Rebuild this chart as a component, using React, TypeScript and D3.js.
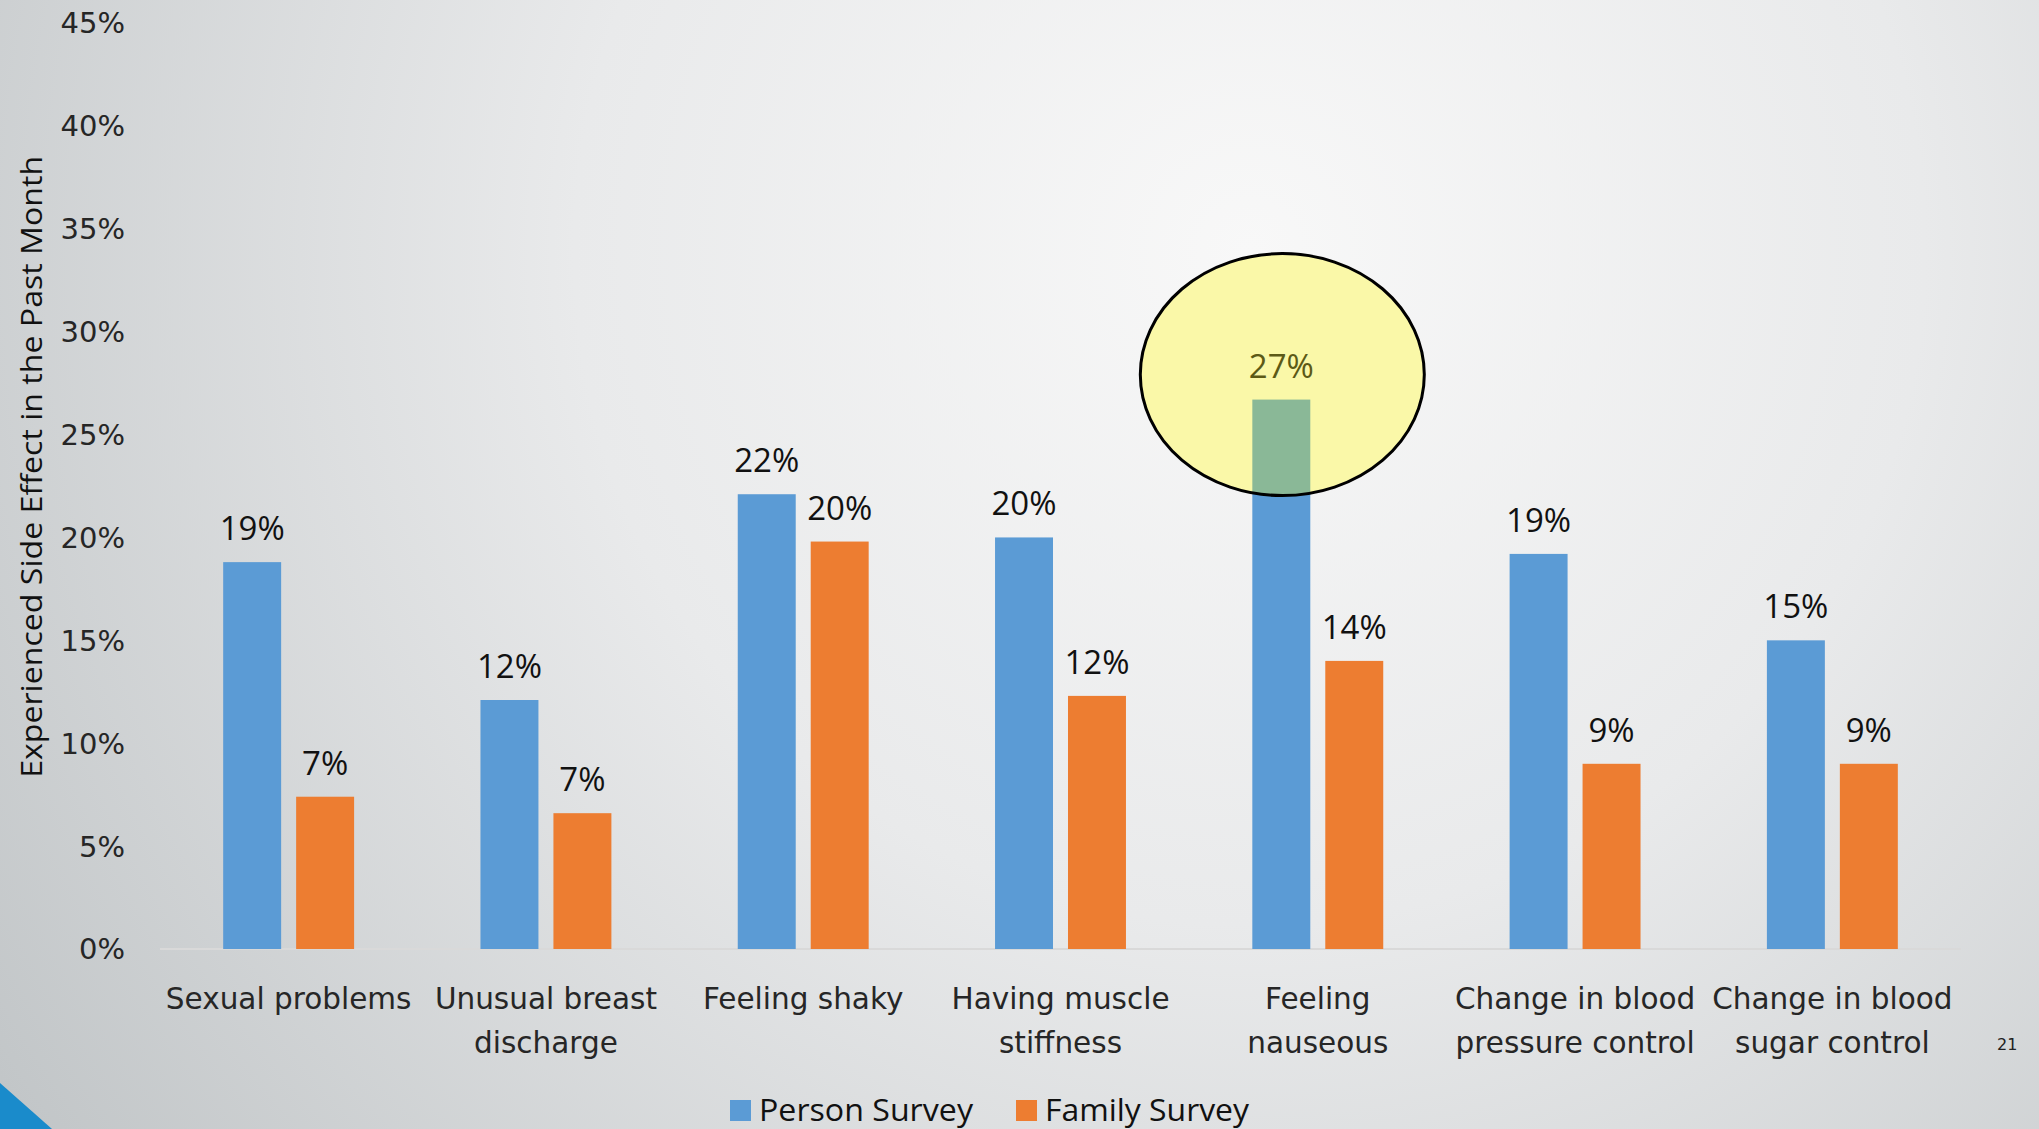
import { useEffect, useRef } from "react";
import * as d3 from "d3";

const categories = [
  ["Sexual problems"],
  ["Unusual breast", "discharge"],
  ["Feeling shaky"],
  ["Having muscle", "stiffness"],
  ["Feeling", "nauseous"],
  ["Change in blood", "pressure control"],
  ["Change in blood", "sugar control"],
];
const personSurvey = [18.8, 12.1, 22.1, 20.0, 26.7, 19.2, 15.0];
const familySurvey = [7.4, 6.6, 19.8, 12.3, 14.0, 9.0, 9.0];
const personLabels = ["19%", "12%", "22%", "20%", "27%", "19%", "15%"];
const familyLabels = ["7%", "7%", "20%", "12%", "14%", "9%", "9%"];
const seriesNames = ["Person Survey", "Family Survey"];
const yTicks = [0, 5, 10, 15, 20, 25, 30, 35, 40, 45];

const W = 2039;
const H = 1129;
const COLORS = ["#5B9BD5", "#ED7D31"];

export default function App() {
  const svgRef = useRef<SVGSVGElement>(null);

  useEffect(() => {
    document.body.style.margin = "0";
    const svg = d3.select(svgRef.current);
    svg.selectAll("*").remove();

    const defs = svg.append("defs");
    const grad = defs
      .append("radialGradient")
      .attr("id", "bg")
      .attr("gradientUnits", "userSpaceOnUse")
      .attr("cx", 1250)
      .attr("cy", 250)
      .attr("r", 1500);
    grad.append("stop").attr("offset", "0").attr("stop-color", "#f8f8f8");
    grad.append("stop").attr("offset", "0.45").attr("stop-color", "#e9eaeb");
    grad.append("stop").attr("offset", "1").attr("stop-color", "#c2c6c8");

    svg.append("rect").attr("width", W).attr("height", H).attr("fill", "url(#bg)");

    // blue corner
    svg
      .append("path")
      .attr("d", `M0,${H - 46} L52,${H} L0,${H} Z`)
      .attr("fill", "#1a8bcb");

    const margin = { left: 160, right: 78, top: 23, bottom: 180 };
    const y = d3
      .scaleLinear()
      .domain([0, 45])
      .range([H - margin.bottom, margin.top]);
    const x0 = d3
      .scaleBand()
      .domain(categories.map((_, i) => String(i)))
      .range([margin.left, W - margin.right]);
    const x1 = d3
      .scaleBand()
      .domain(seriesNames)
      .range([0, x0.bandwidth()])
      .paddingInner(0.2055)
      .paddingOuter(0.866);

    // y tick labels
    svg
      .append("g")
      .selectAll("text")
      .data(yTicks)
      .join("text")
      .attr("x", 125)
      .attr("y", (d) => y(d))
      .attr("dy", "0.36em")
      .attr("text-anchor", "end")
      .style("font-family", "DejaVu Sans")
      .style("font-size", "29px")
      .attr("fill", "#262626")
      .text((d) => `${d}%`);

    // axis line
    svg
      .append("line")
      .attr("x1", margin.left)
      .attr("x2", W - margin.right)
      .attr("y1", y(0))
      .attr("y2", y(0))
      .attr("stroke", "#d9d9d9")
      .attr("stroke-width", 2);

    const groups = categories.map((c, i) => ({
      i,
      lines: c,
      values: [personSurvey[i], familySurvey[i]],
      labels: [personLabels[i], familyLabels[i]],
    }));

    const g = svg
      .append("g")
      .selectAll("g")
      .data(groups)
      .join("g")
      .attr("transform", (d) => `translate(${x0(String(d.i))},0)`);

    g.selectAll("rect")
      .data((d) => d.values.map((v, k) => ({ v, k })))
      .join("rect")
      .attr("x", (d) => x1(seriesNames[d.k])!)
      .attr("y", (d) => y(d.v))
      .attr("width", x1.bandwidth())
      .attr("height", (d) => y(0) - y(d.v))
      .attr("fill", (d) => COLORS[d.k]);

    g.selectAll("text.lbl")
      .data((d) => d.values.map((v, k) => ({ v, k, t: d.labels[k] })))
      .join("text")
      .attr("class", "lbl")
      .attr("x", (d) => x1(seriesNames[d.k])! + x1.bandwidth() / 2)
      .attr("y", (d) => y(d.v) - 22)
      .attr("text-anchor", "middle")
      .style("font-family", "Open Sans")
      .style("font-size", "33px")
      .attr("fill", "#111")
      .text((d) => d.t);

    // category labels
    g.selectAll("text.cat")
      .data((d) => d.lines)
      .join("text")
      .attr("class", "cat")
      .attr("x", x0.bandwidth() / 2)
      .attr("y", (_, j) => 1009 + j * 44)
      .attr("text-anchor", "middle")
      .style("font-family", "DejaVu Sans")
      .style("font-size", "29.5px")
      .attr("fill", "#262626")
      .text((d) => d);

    // highlight ellipse over the 27% bar
    const hi = 4;
    const cx = x0(String(hi))! + x1(seriesNames[0])! + x1.bandwidth() / 2 + 1;
    const cy = y(personSurvey[hi]) - 25;
    defs
      .append("clipPath")
      .attr("id", "ell")
      .append("ellipse")
      .attr("cx", cx)
      .attr("cy", cy)
      .attr("rx", 142)
      .attr("ry", 121);
    svg
      .append("ellipse")
      .attr("cx", cx)
      .attr("cy", cy)
      .attr("rx", 142)
      .attr("ry", 121)
      .attr("fill", "#faf8a8");
    svg
      .append("rect")
      .attr("clip-path", "url(#ell)")
      .attr("x", x0(String(hi))! + x1(seriesNames[0])!)
      .attr("y", y(personSurvey[hi]))
      .attr("width", x1.bandwidth())
      .attr("height", y(0) - y(personSurvey[hi]))
      .attr("fill", "#8ab897");
    svg
      .append("text")
      .attr("x", x0(String(hi))! + x1(seriesNames[0])! + x1.bandwidth() / 2)
      .attr("y", y(personSurvey[hi]) - 22)
      .attr("text-anchor", "middle")
      .style("font-family", "Open Sans")
      .style("font-size", "33px")
      .attr("fill", "#5c5a16")
      .text(personLabels[hi]);
    svg
      .append("ellipse")
      .attr("cx", cx)
      .attr("cy", cy)
      .attr("rx", 142)
      .attr("ry", 121)
      .attr("fill", "none")
      .attr("stroke", "#000")
      .attr("stroke-width", 3);

    // y axis title
    svg
      .append("text")
      .attr("transform", `translate(42,${(120 + 598) / 2 * 1.3004}) rotate(-90)`)
      .attr("text-anchor", "middle")
      .attr("textLength", 622)
      .attr("lengthAdjust", "spacingAndGlyphs")
      .style("font-family", "Open Sans")
      .style("font-size", "30px")
      .attr("fill", "#111")
      .text("Experienced Side Effect in the Past Month");

    // legend
    const legend = svg.append("g");
    const lx = [730, 1016];
    const lw = [214, 204];
    seriesNames.forEach((name, k) => {
      legend
        .append("rect")
        .attr("x", lx[k])
        .attr("y", 1100)
        .attr("width", 21)
        .attr("height", 21)
        .attr("fill", COLORS[k]);
      legend
        .append("text")
        .attr("x", lx[k] + 29)
        .attr("y", 1121)
        .attr("textLength", lw[k])
        .attr("lengthAdjust", "spacingAndGlyphs")
        .style("font-family", "Open Sans")
        .style("font-size", "31px")
        .attr("fill", "#111")
        .text(name);
    });

    // page number
    svg
      .append("text")
      .attr("x", 1997)
      .attr("y", 1050)
      .style("font-family", "DejaVu Sans")
      .style("font-size", "16px")
      .attr("fill", "#222")
      .text("21");
  }, []);

  return <svg ref={svgRef} width={W} height={H} style={{ display: "block" }}></svg>;
}
